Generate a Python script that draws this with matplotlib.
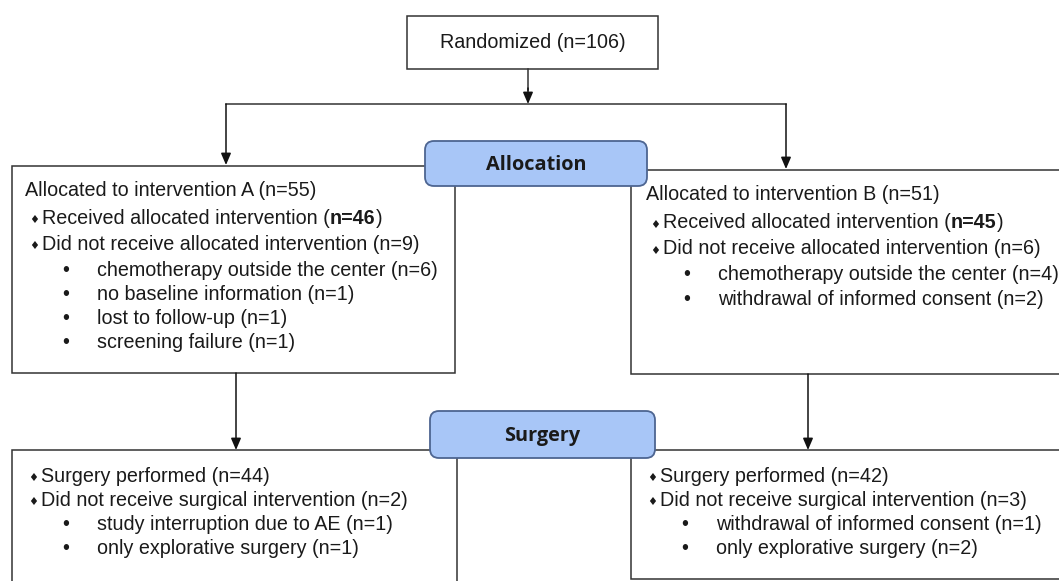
import matplotlib
matplotlib.use("Agg")
import matplotlib.pyplot as plt
from matplotlib.patches import Rectangle, FancyBboxPatch

# ---------------- data ----------------
randomized_n = 106
stage_labels = ["Allocation", "Surgery"]
arm_names = ["A", "B"]
allocated_n = [55, 51]
received_n = [46, 45]
not_received_n = [9, 6]
alloc_reasons_A = ["chemotherapy outside the center (n=6)", "no baseline information (n=1)",
                   "lost to follow-up (n=1)", "screening failure (n=1)"]
alloc_reasons_B = ["chemotherapy outside the center (n=4)", "withdrawal of informed consent (n=2)"]
surgery_n = [44, 42]
no_surgery_n = [2, 3]
surg_reasons_A = ["study interruption due to AE (n=1)", "only explorative surgery (n=1)"]
surg_reasons_B = ["withdrawal of informed consent (n=1)", "only explorative surgery (n=2)"]

W, H = 1059, 581
fig = plt.figure(figsize=(W / 100, H / 100), dpi=100)
ax = fig.add_axes([0, 0, 1, 1])
ax.set_xlim(0, W)
ax.set_ylim(H, 0)
ax.axis("off")

LC = "#333333"
LW = 1.1
FS = 14.2
FS2 = 14.2
MAIN = ["Liberation Sans", "DejaVu Sans"]
BULLET_FAM = ["DejaVu Sans"]
TC = "#1a1a1a"

fig.canvas.draw()
renderer = fig.canvas.get_renderer()


def box(x0, y0, x1, y1):
    ax.add_patch(Rectangle((x0, y0), x1 - x0, y1 - y0, fill=True, facecolor="white",
                           edgecolor=LC, lw=LW, zorder=2))


def stage(x0, y0, x1, y1, label):
    ax.add_patch(FancyBboxPatch((x0, y0), x1 - x0, y1 - y0,
                                boxstyle="round,pad=0,rounding_size=9",
                                facecolor="#a8c6f7", edgecolor="#4d6591", lw=1.3, zorder=4))
    ax.text((x0 + x1) / 2, (y0 + y1) / 2 + 2, label, ha="center", va="center",
            fontsize=14.3, fontweight="bold", family=["Open Sans", "DejaVu Sans"],
            color=TC, zorder=5)


def arrow(x0, y0, x1, y1):
    ax.annotate("", xy=(x1, y1), xytext=(x0, y0),
                arrowprops=dict(arrowstyle="-|>,head_length=0.7,head_width=0.3",
                                color="#111111", lw=LW, shrinkA=0, shrinkB=0),
                zorder=3)


def runs(x, y, parts, fs):
    for txt, wt in parts:
        t = ax.text(x, y, txt, ha="left", va="center", fontsize=fs, fontweight=wt,
                    family=MAIN, color=TC, zorder=5)
        bb = t.get_window_extent(renderer=renderer)
        x += bb.width


def diamond_line(x, y, parts, fs):
    ax.text(x, y + 2, "\u2666", ha="left", va="center", fontsize=8, family=BULLET_FAM,
            color=TC, zorder=5)
    runs(x + 13, y, parts, fs)


def dot_line(x, y, txt, fs):
    ax.text(x, y, "\u2022", ha="center", va="center", fontsize=fs, family=MAIN,
            color=TC, zorder=5)
    ax.text(x + 31, y, txt, ha="left", va="center", fontsize=fs, family=MAIN,
            color=TC, zorder=5)


# top box
box(407, 16, 658, 69)
ax.text(533, 43, f"Randomized (n={randomized_n})", ha="center", va="center",
        fontsize=FS, family=MAIN, color=TC, zorder=5)
ax.plot([528, 528], [69, 90], color=LC, lw=LW)
arrow(528, 88, 528, 104)
ax.plot([226, 786], [104, 104], color=LC, lw=LW, zorder=1)
arrow(226, 104, 226, 165)
arrow(786, 104, 786, 169)

# allocation boxes
box(12, 166, 455, 373)
box(631, 170, 1070, 374)
stage(425, 141, 647, 186, stage_labels[0])

alloc_x = [25, 646]
alloc_y0 = [190, 195]
reasons = [alloc_reasons_A, alloc_reasons_B]
for i in range(2):
    x = alloc_x[i]
    y = alloc_y0[i]
    runs(x, y, [(f"Allocated to intervention {arm_names[i]} (n={allocated_n[i]})", "normal")], FS)
    diamond_line(x + 4, y + 28, [("Received allocated intervention (", "normal"),
                                 (f"n={received_n[i]}", "bold"), (")", "normal")], FS)
    diamond_line(x + 4, y + 54, [(f"Did not receive allocated intervention (n={not_received_n[i]})", "normal")], FS)
    for k, r in enumerate(reasons[i]):
        dot_line(x + 41, y + 80 + 24.3 * k, r, FS)

# arrows to surgery
arrow(236, 373, 236, 450)
arrow(808, 374, 808, 450)

# surgery boxes
box(12, 450, 457, 600)
box(631, 450, 1070, 579)
stage(430, 411, 655, 458, stage_labels[1])

surg_x = [28, 647]
sreasons = [surg_reasons_A, surg_reasons_B]
for i in range(2):
    x = surg_x[i]
    y = 476
    diamond_line(x, y, [(f"Surgery performed (n={surgery_n[i]})", "normal")], FS2)
    diamond_line(x, y + 24, [(f"Did not receive surgical intervention (n={no_surgery_n[i]})", "normal")], FS2)
    for k, r in enumerate(sreasons[i]):
        dot_line(x + 38, y + 48 + 24.5 * k, r, FS2)

fig.savefig("out.png", dpi=100, facecolor="white")
